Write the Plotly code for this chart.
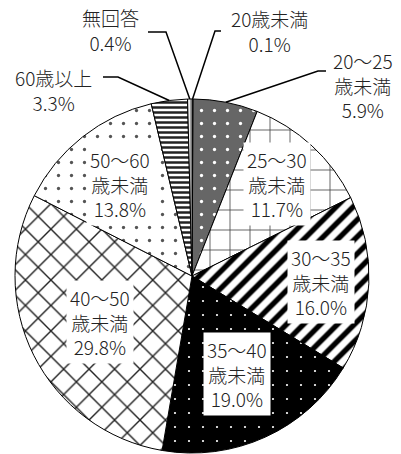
import math
import plotly.graph_objects as go

# Age distribution of respondents (%)
age_groups = ["20歳未満", "20～25歳未満", "25～30歳未満", "30～35歳未満", "35～40歳未満",
              "40～50歳未満", "50～60歳未満", "60歳以上", "無回答"]
shares = [0.1, 5.9, 11.7, 16.0, 19.0, 29.8, 13.8, 3.3, 0.4]

W, H = 401, 454
CX, CY, R = 192, 276, 177          # pie centre / radius in pixels
FONT = "Noto Sans CJK JP"
FONT_WEIGHT = 300
TEXT_COLOR = "#222222"

# fill patterns, one per slice
patterns = [
    dict(shape="|", fgcolor="#444444", bgcolor="#bbbbbb", size=3, solidity=0.4),
    dict(shape=".", fgcolor="#ffffff", bgcolor="#666666", size=13, solidity=0.05),
    dict(shape="+", fgcolor="#444444", bgcolor="#ffffff", size=20, solidity=0.08),
    dict(shape="/", fgcolor="#000000", bgcolor="#ffffff", size=12, solidity=0.45),
    dict(shape=".", fgcolor="#ffffff", bgcolor="#000000", size=14, solidity=0.02),
    dict(shape="x", fgcolor="#222222", bgcolor="#ffffff", size=18, solidity=0.15),
    dict(shape=".", fgcolor="#555555", bgcolor="#ffffff", size=13, solidity=0.05),
    dict(shape="-", fgcolor="#222222", bgcolor="#ffffff", size=5, solidity=0.5),
    dict(shape="|", fgcolor="#999999", bgcolor="#eeeeee", size=3, solidity=0.3),
]


def to_paper(x, y):
    return x / W, 1 - y / H


def label_text(name, value):
    if "～" in name:
        name = name.replace("歳未満", "<br>歳未満")
    return f"{name}<br>{value:.1f}%"


# mid angle (degrees clockwise from 12 o'clock) of each slice
total = sum(shares)
mid_angles = []
acc = 0.0
for v in shares:
    mid_angles.append(360 * (acc + v / 2) / total)
    acc += v


def polar_px(angle, frac):
    a = math.radians(angle)
    return CX + R * frac * math.sin(a), CY - R * frac * math.cos(a)


fig = go.Figure(go.Pie(
    labels=age_groups,
    values=shares,
    sort=False,
    direction="clockwise",
    rotation=0,
    textinfo="none",
    hoverinfo="label+percent",
    showlegend=False,
    marker=dict(colors=[p["bgcolor"] for p in patterns],
                line=dict(color="#000000", width=1),
                pattern=dict(
                    shape=[p["shape"] for p in patterns],
                    fgcolor=[p["fgcolor"] for p in patterns],
                    bgcolor=[p["bgcolor"] for p in patterns],
                    size=[p["size"] for p in patterns],
                    solidity=[p["solidity"] for p in patterns],
                    fillmode="replace",
                )),
    domain=dict(x=[(CX - R) / W, (CX + R) / W],
                y=[1 - (CY + R) / H, 1 - (CY - R) / H]),
))

annotations = []
shapes = []
label_font = dict(family=FONT, size=19, color=TEXT_COLOR, weight=FONT_WEIGHT)

# labels placed inside the larger slices (radius fraction along the mid angle)
inside_r = {2: 0.71, 3: 0.73, 4: 0.61, 5: 0.58, 6: 0.66}
for i, f in inside_r.items():
    px, py = polar_px(mid_angles[i], f)
    x, y = to_paper(px, py)
    annotations.append(dict(
        x=x, y=y, xref="paper", yref="paper", showarrow=False,
        text=label_text(age_groups[i], shares[i]),
        font=label_font,
        bgcolor="#ffffff", borderpad=3, align="center",
        xanchor="center", yanchor="middle",
    ))

# labels outside the small slices, with elbow leader lines
outside = {
    0: dict(label=(269, 31), elbow=(215, 31), end=(221, 31)),
    1: dict(label=(363, 85), elbow=(318, 71), end=(326, 71)),
    7: dict(label=(53, 90), elbow=(118, 77), end=(103, 77)),
    8: dict(label=(110, 30), elbow=(166, 32), end=(148, 32)),
}
for i, o in outside.items():
    x, y = to_paper(*o["label"])
    annotations.append(dict(
        x=x, y=y, xref="paper", yref="paper", showarrow=False,
        text=label_text(age_groups[i], shares[i]),
        font=label_font,
        bgcolor="#ffffff", borderpad=2, align="center",
        xanchor="center", yanchor="middle",
    ))
    sx, sy = to_paper(*polar_px(mid_angles[i], 1.0))
    ex, ey = to_paper(*o["elbow"])
    tx, ty = to_paper(*o["end"])
    shapes.append(dict(
        type="path", xref="paper", yref="paper",
        path=f"M {sx} {sy} L {ex} {ey} L {tx} {ty}",
        line=dict(color="#000000", width=1.5),
    ))

fig.update_layout(
    width=W, height=H,
    margin=dict(l=0, r=0, t=0, b=0),
    paper_bgcolor="#ffffff",
    plot_bgcolor="#ffffff",
    annotations=annotations,
    shapes=shapes,
)

fig.write_html("out.html")
